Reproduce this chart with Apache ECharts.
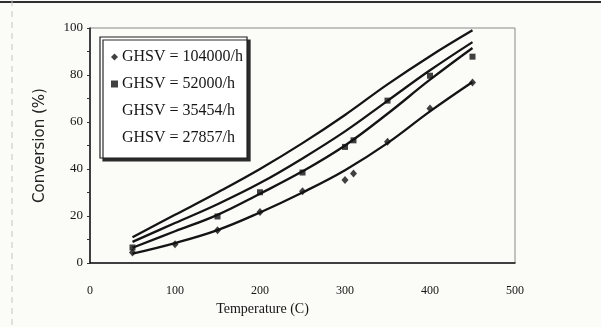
<!DOCTYPE html>
<html>
<head>
<meta charset="utf-8">
<script src="https://cdn.jsdelivr.net/npm/echarts@6/dist/echarts.min.js"></script>
<style>
  html, body { margin: 0; padding: 0; background: #fbfbf8; }
  #chart { width: 601px; height: 327px; }
</style>
</head>
<body>
<div id="chart"></div>
<script>
// temperatures of the fitted curves
var temps = [50, 100, 150, 200, 250, 300, 350, 400, 450];
// fitted curves, one per GHSV
var fit104000 = [4, 8.5, 14, 21.5, 30, 39.5, 51, 64.5, 77];
var fit52000 = [6.5, 13.5, 20.5, 29.5, 39, 50, 63.5, 78, 91.5];
var fit35454 = [9, 17, 25, 34, 44.5, 56, 69, 82, 94];
var fit27857 = [11, 20.5, 30, 40, 51, 63, 76, 88, 99];

// measured points
var diamondTemps = [50, 100, 150, 200, 250, 300, 310, 350, 400, 450];
var diamondConv = [4.5, 8, 13.9, 21.7, 30.5, 35.3, 38.1, 51.6, 65.7, 76.8];
var squareTemps = [50, 150, 200, 250, 300, 310, 350, 400, 450];
var squareConv = [6.6, 19.8, 30.1, 38.5, 49.4, 52.2, 69.1, 79.7, 87.8];

var names = ['GHSV = 104000/h', 'GHSV = 52000/h', 'GHSV = 35454/h', 'GHSV = 27857/h'];
var xTicks = [0, 500, 100];
var yTicks = [0, 100, 20];

function pairs(xs, ys) {
  return xs.map(function (x, i) { return [x, ys[i]]; });
}

function curve(name, ys) {
  return {
    name: name,
    type: 'line',
    smooth: 0.4,
    symbol: 'none',
    lineStyle: { color: '#141414', width: 2.3 },
    itemStyle: { color: '#141414' },
    data: pairs(temps, ys),
    z: 2
  };
}

var serif = 'Liberation Serif';
var chart = echarts.init(document.getElementById('chart'));
var option = {
  backgroundColor: '#fbfbf8',
  animation: false,
  grid: {
    left: 90, right: 86, top: 28, bottom: 64,
    show: true,
    borderColor: '#8a8a8a',
    borderWidth: 1
  },
  legend: {
    orient: 'vertical',
    left: 100,
    top: 37,
    padding: [12, 4, 12, 11],
    itemGap: 11,
    itemWidth: 7,
    itemHeight: 7,
    backgroundColor: '#ffffff',
    borderColor: '#1e1e1e',
    borderWidth: 1.2,
    shadowColor: '#2a2a2a',
    shadowBlur: 0,
    shadowOffsetX: 3,
    shadowOffsetY: 3,
    textStyle: { fontFamily: serif, fontSize: 16, color: '#151515', lineHeight: 16, padding: [0, 0, 0, -1] },
    data: [
      { name: names[0], icon: 'diamond' },
      { name: names[1], icon: 'rect' },
      { name: names[2], icon: 'none' },
      { name: names[3], icon: 'none' }
    ]
  },
  xAxis: {
    type: 'value',
    min: xTicks[0],
    max: xTicks[1],
    interval: xTicks[2],
    name: 'Temperature (C)',
    nameLocation: 'middle',
    nameGap: 38,
    nameTextStyle: { fontFamily: serif, fontSize: 14, color: '#151515', padding: [0, 80, 0, 0] },
    axisLine: { lineStyle: { color: '#151515', width: 1.5 } },
    axisTick: { show: false },
    splitLine: { show: false },
    axisLabel: { fontFamily: serif, fontSize: 12, color: '#151515', margin: 22 }
  },
  yAxis: {
    type: 'value',
    min: yTicks[0],
    max: yTicks[1],
    interval: yTicks[2],
    name: 'Conversion (%)',
    nameLocation: 'middle',
    nameGap: 42,
    nameTextStyle: { fontFamily: 'DejaVu Sans', fontSize: 15, color: '#222' },
    axisLine: { lineStyle: { color: '#151515', width: 1.5 } },
    axisTick: { show: true, length: 3, lineStyle: { color: '#333' } },
    minorTick: { show: true, splitNumber: 2, length: 3, lineStyle: { color: '#333' } },
    splitLine: { show: false },
    axisLabel: { fontFamily: serif, fontSize: 13, color: '#151515', margin: 7 }
  },
  graphic: [
    { type: 'line', shape: { x1: 0, y1: 2, x2: 601, y2: 2 }, style: { stroke: '#2e2e2e', lineWidth: 2 } },
    { type: 'line', shape: { x1: 12, y1: 0, x2: 12, y2: 327 }, style: { stroke: '#c4c4c4', lineWidth: 1, lineDash: [6, 5] } }
  ],
  series: [
    {
      name: names[0],
      type: 'scatter',
      symbol: 'diamond',
      symbolSize: [7, 8],
      itemStyle: { color: '#111' },
      data: pairs(diamondTemps, diamondConv),
      z: 3
    },
    {
      name: names[1],
      type: 'scatter',
      symbol: 'rect',
      symbolSize: 6,
      itemStyle: { color: '#111' },
      data: pairs(squareTemps, squareConv),
      z: 3
    },
    curve(names[0], fit104000),
    curve(names[1], fit52000),
    curve(names[2], fit35454),
    curve(names[3], fit27857)
  ]
};
chart.setOption(option);
</script>
</body>
</html>
